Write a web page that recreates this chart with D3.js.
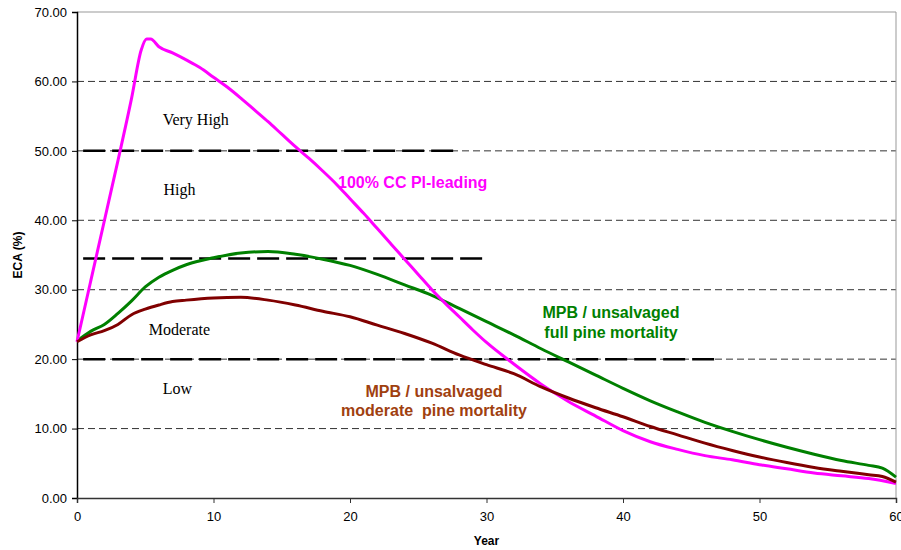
<!DOCTYPE html>
<html lang="en">
<head>
<meta charset="utf-8"/>
<title>ECA (%) by Year</title>
<script src="https://d3js.org/d3.v7.min.js"></script>
<style>
    body { margin: 0; padding: 0; background: #fff; width: 901px; height: 550px; overflow: hidden; }
    #chart { width: 901px; height: 550px; }
    .tick text { font-family: Arial, "Liberation Sans", sans-serif; font-size: 13px; fill: #000; }
    .zone { font-family: "Times New Roman", "Liberation Serif", serif; font-size: 16px; fill: #000; }
    .series-label { font-family: Arial, "Liberation Sans", sans-serif; font-size: 16px; font-weight: bold; }
    .axis-title { font-family: Arial, "Liberation Sans", sans-serif; font-size: 12px; font-weight: bold; }
</style>
</head>
<body>
<div id="chart"></div>
<script>
    // axis ticks
    const xTicks = [0, 10, 20, 30, 40, 50, 60];
    const yTicks = [0, 10, 20, 30, 40, 50, 60, 70];

    // 100% CC Pl-leading (magenta)
    const ccYears  = [0, 1, 2, 3, 4, 4.7, 5.1, 5.4, 6, 7, 8, 9, 10, 11, 12, 13, 14, 15, 16, 17, 18, 19, 20, 21, 22, 23, 24, 25, 26, 27, 28, 29, 30, 32, 34, 36, 38, 40, 42, 44, 46, 48, 50, 52, 54, 56, 58, 60];
    const ccValues = [22.5, 31.2, 39.9, 48.6, 57.6, 64.5, 66.1, 66.1, 65.0, 64.1, 63.1, 62.0, 60.6, 59.2, 57.6, 55.9, 54.2, 52.4, 50.6, 48.9, 47.1, 45.2, 43.1, 41.0, 38.8, 36.6, 34.4, 32.2, 30.0, 28.0, 26.1, 24.2, 22.4, 19.3, 16.4, 13.9, 11.8, 9.7, 8.1, 7.0, 6.1, 5.5, 4.8, 4.2, 3.6, 3.2, 2.8, 2.1];

    // MPB / unsalvaged, full pine mortality (green)
    const fullYears  = [0, 1, 2, 3, 4, 5, 6, 7, 8, 10, 12, 14, 16, 18, 20, 22, 24, 26, 28, 30, 32, 34, 36, 38, 40, 42, 44, 46, 48, 50, 52, 54, 56, 58, 59, 60];
    const fullValues = [22.6, 24.0, 25.0, 26.6, 28.4, 30.4, 31.8, 32.8, 33.6, 34.6, 35.3, 35.5, 35.1, 34.4, 33.5, 32.2, 30.7, 29.2, 27.3, 25.4, 23.5, 21.5, 19.6, 17.7, 15.8, 14.0, 12.4, 10.9, 9.6, 8.4, 7.3, 6.3, 5.4, 4.7, 4.3, 3.0];

    // MPB / unsalvaged, moderate pine mortality (dark red)
    const modYears  = [0, 1, 2, 3, 4, 5, 6, 7, 8, 10, 12, 14, 16, 18, 20, 22, 24, 26, 28, 30, 32, 34, 36, 38, 40, 42, 44, 46, 48, 50, 52, 54, 56, 58, 59, 60];
    const modValues = [22.5, 23.5, 24.1, 25.0, 26.4, 27.2, 27.8, 28.3, 28.5, 28.8, 28.9, 28.5, 27.8, 26.9, 26.1, 24.9, 23.7, 22.3, 20.6, 19.2, 17.9, 16.0, 14.4, 13.0, 11.7, 10.3, 9.1, 7.9, 6.85, 5.9, 5.1, 4.4, 3.85, 3.35, 3.1, 2.3];

    // class thresholds (thick dashed lines)
    const thresholdValues = [50, 34.5, 20];
    const thresholdEnds   = [28, 30, 47];
    const zoneNames  = ["Very High", "High", "Moderate", "Low"];
    const zoneValues = [53.7, 43.7, 23.5, 15.0];
    const zoneYears  = [8.7, 7.5, 7.5, 7.35];

    const width = 901, height = 550;
    const margin = {top: 12, right: 5, bottom: 52, left: 77};

    const svg = d3.select("#chart").append("svg")
        .attr("width", width)
        .attr("height", height);

    const x = d3.scaleLinear().domain([0, 60]).range([margin.left, width - margin.right]);
    const y = d3.scaleLinear().domain([0, 70]).range([height - margin.bottom, margin.top]);

    // horizontal dashed gridlines
    svg.append("g")
        .selectAll("line")
        .data(yTicks.filter(d => d > 0 && d < 70))
        .enter().append("line")
        .attr("x1", x(0)).attr("x2", x(60))
        .attr("y1", d => y(d)).attr("y2", d => y(d))
        .attr("stroke", "#333")
        .attr("stroke-width", 1)
        .attr("stroke-dasharray", "7,4");

    // plot area border (top and right)
    svg.append("path")
        .attr("d", `M${x(0)},${y(70)}H${x(60)}V${y(0)}`)
        .attr("fill", "none")
        .attr("stroke", "#999")
        .attr("stroke-width", 1);

    // threshold lines
    svg.append("g")
        .selectAll("line")
        .data(thresholdValues)
        .enter().append("line")
        .attr("x1", x(0.45))
        .attr("x2", (d, i) => x(thresholdEnds[i]))
        .attr("y1", d => y(d)).attr("y2", d => y(d))
        .attr("stroke", "#000")
        .attr("stroke-width", 2.5)
        .attr("stroke-dasharray", "22,7");

    // zone labels
    svg.append("g")
        .selectAll("text")
        .data(zoneNames)
        .enter().append("text")
        .attr("class", "zone")
        .attr("text-anchor", "middle")
        .attr("x", (d, i) => x(zoneYears[i]))
        .attr("y", (d, i) => y(zoneValues[i]))
        .text(d => d);

    // axes
    const yAxis = svg.append("g")
        .attr("transform", `translate(${x(0)},0)`)
        .call(d3.axisLeft(y).tickValues(yTicks).tickFormat(d3.format(".2f")).tickSize(5).tickPadding(5));
    yAxis.select(".domain").attr("stroke", "#000").attr("stroke-width", 1.5);
    yAxis.selectAll(".tick line").attr("stroke", "#000");

    const xAxis = svg.append("g")
        .attr("transform", `translate(0,${y(0)})`)
        .call(d3.axisBottom(x).tickValues(xTicks).tickFormat(d3.format("d")).tickSize(5).tickPadding(9));
    xAxis.select(".domain").attr("stroke", "#333").attr("stroke-width", 1.5);
    xAxis.selectAll(".tick line").attr("stroke", "#333");

    // axis titles
    svg.append("text")
        .attr("class", "axis-title")
        .attr("text-anchor", "middle")
        .attr("x", x(30))
        .attr("y", 545)
        .text("Year");

    svg.append("text")
        .attr("class", "axis-title")
        .attr("text-anchor", "middle")
        .attr("transform", `translate(22,${y(35)}) rotate(-90)`)
        .text("ECA (%)");

    // series
    const line = d3.line()
        .x(d => x(d[0]))
        .y(d => y(d[1]))
        .curve(d3.curveMonotoneX);

    const series = [
        {years: fullYears, values: fullValues, color: "#008000"},
        {years: ccYears, values: ccValues, color: "#ff00ff"},
        {years: modYears, values: modValues, color: "#800000"}
    ];

    series.forEach(s => {
        svg.append("path")
            .datum(d3.zip(s.years, s.values))
            .attr("fill", "none")
            .attr("stroke", s.color)
            .attr("stroke-width", 3)
            .attr("stroke-linejoin", "round")
            .attr("d", line);
    });

    // series labels
    svg.append("text")
        .attr("class", "series-label")
        .attr("fill", "#ff00ff")
        .attr("x", 338).attr("y", 188)
        .text("100% CC Pl-leading");

    const greenLabel = svg.append("text")
        .attr("class", "series-label")
        .attr("fill", "#008000")
        .attr("text-anchor", "middle");
    greenLabel.append("tspan").attr("x", 611).attr("y", 318).text("MPB / unsalvaged");
    greenLabel.append("tspan").attr("x", 611).attr("y", 338).text("full pine mortality");

    const brownLabel = svg.append("text")
        .attr("class", "series-label")
        .attr("fill", "#a0400f")
        .attr("text-anchor", "middle")
        .style("white-space", "pre");
    brownLabel.append("tspan").attr("x", 434).attr("y", 397).text("MPB / unsalvaged");
    brownLabel.append("tspan").attr("x", 434).attr("y", 416).text("moderate  pine mortality");
</script>
</body>
</html>
